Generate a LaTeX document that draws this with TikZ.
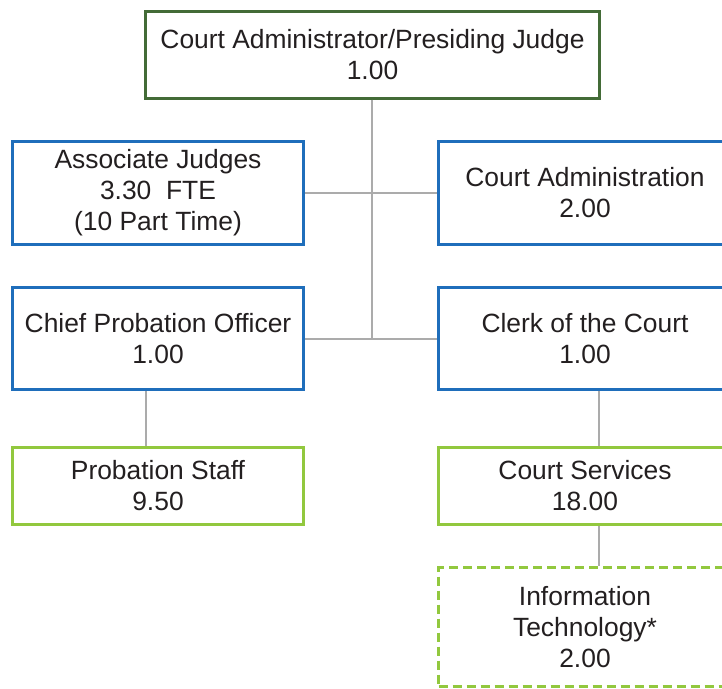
\documentclass[tikz,border=0pt]{standalone}
\usepackage{fontspec}
\setmainfont{Liberation Sans}
\definecolor{dkgreen}{HTML}{436B37}
\definecolor{blu}{HTML}{1F6EBB}
\definecolor{ltgreen}{HTML}{92C83E}
\definecolor{conn}{HTML}{ABABAB}
\definecolor{txt}{HTML}{231F20}
\tikzset{
  box/.style={draw, line width=3pt, fill=white, align=center, text=txt,
    font=\fontsize{26.4}{31}\selectfont, inner sep=0pt},
  topbox/.style={box, draw=dkgreen, minimum width=454pt, minimum height=87pt},
  midbox/.style={box, draw=blu},
  lowbox/.style={box, draw=ltgreen},
  itbox/.style={box, draw=ltgreen, dash pattern=on 9pt off 5pt},
  conn/.style={draw=conn, line width=2pt}
}
\begin{document}
\begin{tikzpicture}[x=1pt,y=-1pt]
\useasboundingbox (0,0) rectangle (722,688);
\clip (0,0) rectangle (722,688);
\coordinate (junc) at (372,338.5);
\node[topbox] (top) at (372.5,54.5) {Court Administrator/Presiding Judge\\1.00};
\node[midbox, minimum width=291pt, minimum height=103pt] (aj) at (158,193) {Associate Judges\\3.30\ \ FTE\\(10 Part Time)};
\node[midbox, minimum width=293pt, minimum height=103pt] (ca) at (585,193) {Court Administration\\2.00};
\node[midbox, minimum width=291pt, minimum height=102pt] (cpo) at (158,338.5) {Chief Probation Officer\\1.00};
\node[midbox, minimum width=293pt, minimum height=102pt] (clerk) at (585,338.5) {Clerk of the Court\\1.00};
\node[lowbox, minimum width=291pt, minimum height=77pt] (ps) at (158,486) {Probation Staff\\9.50};
\node[lowbox, minimum width=293pt, minimum height=77pt] (cs) at (585,486) {Court Services\\18.00};
\node[itbox, minimum width=293pt, minimum height=119pt] (it) at (585,627) {Information\\Technology*\\2.00};
\draw[conn] ([xshift=-0.5pt]top.south) -- (junc);
\draw[conn] (aj.east) -- (ca.west);
\draw[conn] (cpo.east) -- (clerk.west);
\draw[conn] ([xshift=-12pt]cpo.south) -- ([xshift=-12pt]ps.north);
\draw[conn] ([xshift=13.5pt]clerk.south) -- ([xshift=13.5pt]cs.north);
\draw[conn] ([xshift=13.5pt]cs.south) -- ([xshift=13.5pt]it.north);
\end{tikzpicture}
\end{document}
